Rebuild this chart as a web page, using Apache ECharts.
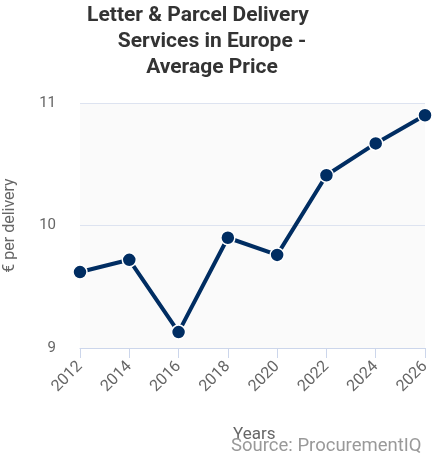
<!DOCTYPE html>
<html>
<head>
<meta charset="utf-8">
<title>Letter & Parcel Delivery Services in Europe - Average Price</title>
<script src="https://cdn.jsdelivr.net/npm/echarts@6/dist/echarts.min.js"></script>
<style>
  html, body { margin: 0; padding: 0; background: #fff; }
  #main { width: 432px; height: 459px; }
</style>
</head>
<body>
<div id="main"></div>
<script>
// data
var years = ['2012', '2014', '2016', '2018', '2020', '2022', '2024', '2026'];
var prices = [9.62, 9.72, 9.13, 9.90, 9.76, 10.41, 10.67, 10.90];
var titleLines = ['Letter & Parcel Delivery', 'Services in Europe -', 'Average Price'];

var chart = echarts.init(document.getElementById('main'));
var font = 'Roboto, "Noto Sans", sans-serif';

function titleLine(text, x, y) {
    return { text: text, left: x, top: y, textAlign: 'center',
             textStyle: { fontSize: 21, fontWeight: 'bold', color: '#333', fontFamily: font } };
}

chart.setOption({
    animation: false,
    textStyle: { fontFamily: font },
    title: [
        titleLine(titleLines[0], 193, 0),
        titleLine(titleLines[1], 207, 26),
        titleLine(titleLines[2], 207, 52)
    ],
    grid: {
        left: 80, right: 7, top: 103, bottom: 111,
        containLabel: false,
        outerBoundsMode: 'none',
        show: true, backgroundColor: '#fafafa', borderWidth: 0
    },
    xAxis: {
        type: 'category',
        data: years,
        boundaryGap: false,
        axisLine: { lineStyle: { color: '#ccd6eb', width: 1 } },
        axisTick: { show: true, length: 10, lineStyle: { color: '#ccd6eb' } },
        axisLabel: { rotate: 45, color: '#666', fontSize: 16, margin: 16 },
        splitLine: { show: false }
    },
    yAxis: {
        type: 'value',
        min: 9, max: 11, interval: 1,
        name: '€ per delivery',
        nameLocation: 'middle',
        nameGap: 62,
        nameTextStyle: { color: '#666', fontSize: 16 },
        axisLine: { show: false },
        axisTick: { show: false },
        axisLabel: { color: '#666', fontSize: 15, margin: 24 },
        splitLine: { lineStyle: { color: '#dde3f0', width: 1 } }
    },
    graphic: [
        { type: 'text', left: 233, top: 426,
          style: { text: 'Years', fill: '#666', fontSize: 17, fontFamily: font } },
        { type: 'text', left: 231, top: 437,
          style: { text: 'Source: ProcurementIQ', fill: '#999', fontSize: 18.5, fontFamily: font } }
    ],
    series: [{
        name: 'Average Price',
        type: 'line',
        data: prices,
        symbol: 'circle',
        symbolSize: 14,
        lineStyle: { color: '#002d62', width: 4 },
        itemStyle: { color: '#002d62', borderColor: '#fff', borderWidth: 1.5 }
    }]
});
</script>
</body>
</html>
